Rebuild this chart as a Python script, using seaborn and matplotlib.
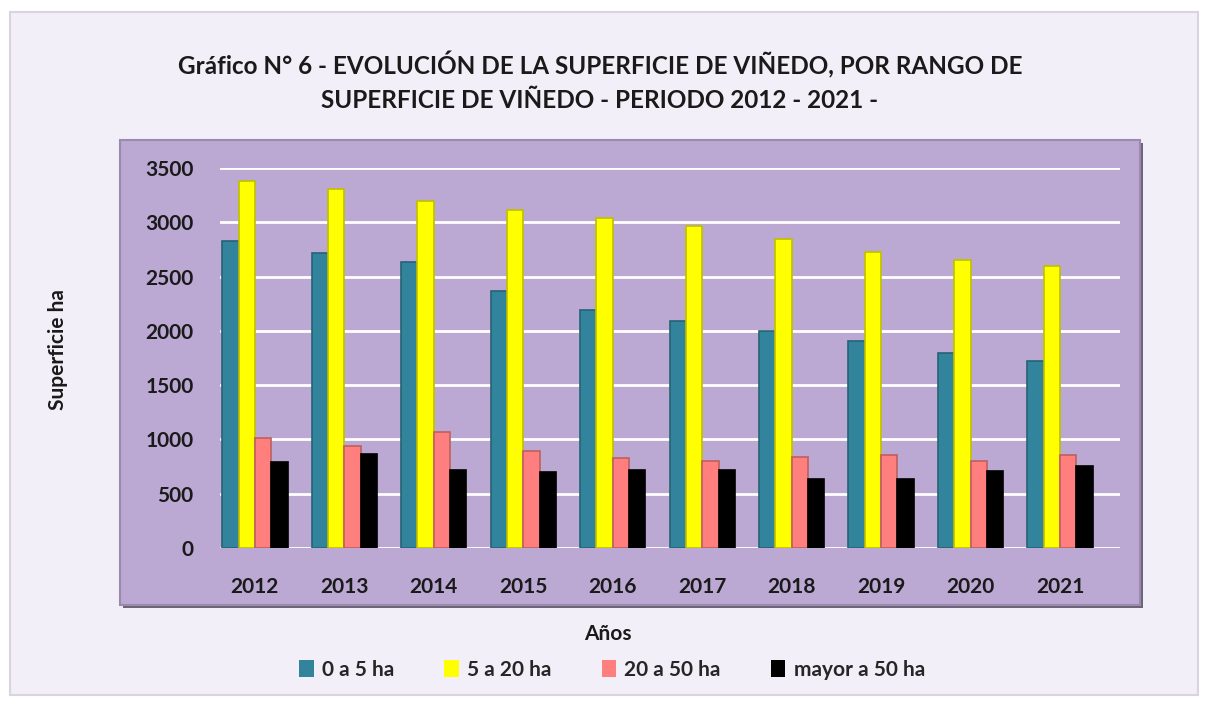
import matplotlib.pyplot as plt
import matplotlib.patches as mpatches
import pandas as pd
import seaborn as sns

# Datos (superficie en ha)
anios = ['2012', '2013', '2014', '2015', '2016', '2017', '2018', '2019', '2020', '2021']
rangos = ['0 a 5 ha', '5 a 20 ha', '20 a 50 ha', 'mayor a 50 ha']
sup_0_5 = [2830, 2720, 2630, 2370, 2190, 2090, 2000, 1910, 1800, 1725]
sup_5_20 = [3380, 3310, 3200, 3110, 3040, 2965, 2850, 2725, 2655, 2600]
sup_20_50 = [1010, 940, 1065, 895, 830, 800, 840, 855, 800, 860]
sup_mayor_50 = [790, 862, 717, 700, 717, 723, 632, 632, 708, 755]
colores = ['#31849B', '#FFFF00', '#FF7F7F', '#000000']

df = pd.DataFrame({'Año': anios * 4,
                   'Rango': sum([[r] * len(anios) for r in rangos], []),
                   'Superficie': sup_0_5 + sup_5_20 + sup_20_50 + sup_mayor_50})

sns.set_style('white')
plt.rcParams['font.family'] = ['Lato', 'DejaVu Sans']

W, H = 1210, 702
fig = plt.figure(figsize=(W / 100, H / 100), dpi=100)
fig.patch.set_facecolor('white')

# fondo exterior y área del gráfico
fig.patches.append(mpatches.Rectangle((10 / W, 1 - 695 / H), 1188 / W, 683 / H, transform=fig.transFigure,
                                      facecolor='#F3EFF8', edgecolor='#D9D4E0', linewidth=1.5, zorder=-4))
fig.patches.append(mpatches.Rectangle((123 / W, 1 - 608 / H), 1020 / W, 465 / H, transform=fig.transFigure,
                                      facecolor='#6E6478', edgecolor='none', zorder=-3))
fig.patches.append(mpatches.Rectangle((120 / W, 1 - 605 / H), 1020 / W, 465 / H, transform=fig.transFigure,
                                      facecolor='#BBA9D4', edgecolor='#9A8AAE', linewidth=1.5, zorder=-2))

ax = fig.add_axes([220 / W, 1 - 548 / H, 900 / W, 380 / H])
ax.set_facecolor('none')
sns.barplot(data=df, x='Año', y='Superficie', hue='Rango', palette=colores, width=0.73,
            saturation=1, ax=ax, legend=False, zorder=3)
for p in ax.patches:
    c = p.get_facecolor()
    p.set_edgecolor((c[0] * 0.75, c[1] * 0.75, c[2] * 0.75, 1))
    p.set_linewidth(1.2)

ax.set_ylim(0, 3500)
ax.set_xlim(-0.39, 9.67)
ax.set_yticks(range(0, 3501, 500))
ax.yaxis.grid(True, color='white', linewidth=2, zorder=0)
ax.set_axisbelow(True)
for s in ax.spines.values():
    s.set_visible(False)
ax.tick_params(axis='y', length=0, pad=19, labelsize=15)
ax.tick_params(axis='x', length=0, pad=21, labelsize=15)
for t in ax.get_xticklabels() + ax.get_yticklabels():
    t.set_fontweight('bold')
    t.set_color('#1A1A1A')
ax.set_xlabel('')
ax.set_ylabel('')

fig.text(600 / W, 1 - 65 / H, 'Gráfico N° 6 - EVOLUCIÓN DE LA SUPERFICIE DE VIÑEDO, POR RANGO DE',
         ha='center', va='center', fontsize=17.5, fontweight='bold', color='#1A1A1A')
fig.text(600 / W, 1 - 100 / H, 'SUPERFICIE DE VIÑEDO - PERIODO 2012 - 2021 -',
         ha='center', va='center', fontsize=17.5, fontweight='bold', color='#1A1A1A')
fig.text(58 / W, 1 - 350 / H, 'Superficie ha', rotation=90, ha='center', va='center',
         fontsize=15, fontweight='bold', color='#1A1A1A')
fig.text(608 / W, 1 - 634 / H, 'Años', ha='center', va='center', fontsize=15,
         fontweight='bold', color='#1A1A1A')

handles = [mpatches.Patch(facecolor=c, edgecolor='none', label=r) for c, r in zip(colores, rangos)]
leg = fig.legend(handles=handles, loc='center', bbox_to_anchor=(612 / W, 1 - 670 / H), ncol=4,
                 frameon=False, handlelength=0.7, handleheight=0.9, handletextpad=0.4,
                 columnspacing=2.4, prop={'size': 15, 'weight': 'bold'})

fig.savefig('out.png', dpi=100)
